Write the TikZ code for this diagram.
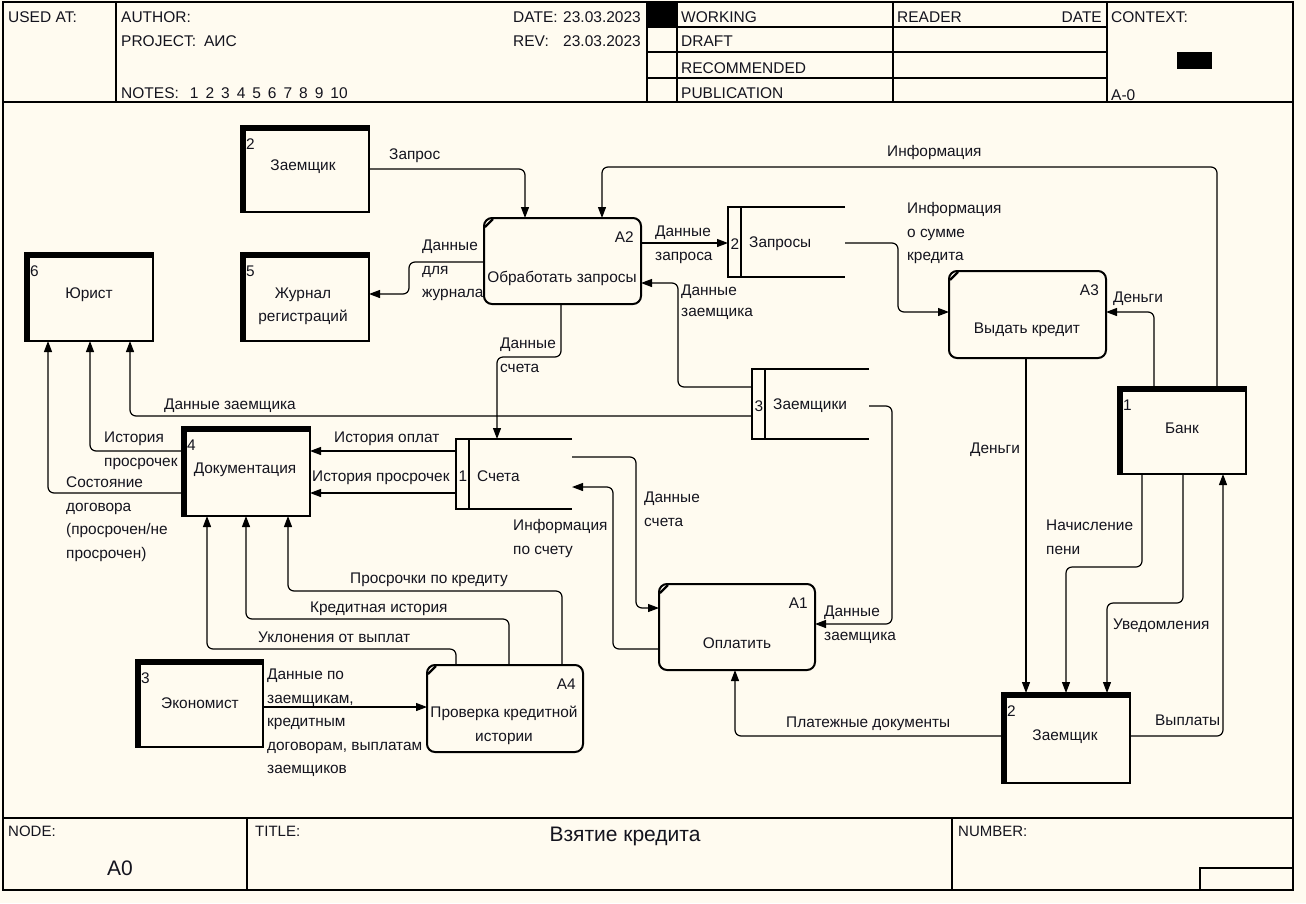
\documentclass[tikz,border=0pt]{standalone}
\usepackage{fontspec}
\setmainfont{Liberation Sans}
\usetikzlibrary{arrows.meta,calc}
\definecolor{bg}{RGB}{255,251,240}
\definecolor{ink}{RGB}{20,20,30}
\newcommand\lblfont{\fontsize{15.4}{23.5}\selectfont}
\newcommand\hdrfont{\fontsize{15.5}{18}\selectfont}
\newcommand\ftrfont{\fontsize{15}{18}\selectfont}
\newcommand\bigfont{\fontsize{21}{24}\selectfont}
% entity: name, x1,y1,x2,y2, number
\newcommand\mkent[6]{%
  \node[ent, minimum width={#4-#2}, minimum height={#5-#3}] (#1) at ({(#2+#4)/2},{(#3+#5)/2}) {};
  \draw[line width=5pt] ($(#1.south west)+(2.5,0)$) -- ($(#1.north west)+(2.5,2.5)$) -- ($(#1.north east)+(0,2.5)$);
  \node[num, anchor=west] (#1n) at ($(#1.north west)+(5,18)$) {#6};
}
% activity: name, x1,y1,x2,y2, label
\newcommand\mkact[6]{%
  \node[act, minimum width={#4-#2}, minimum height={#5-#3}] (#1) at ({(#2+#4)/2},{(#3+#5)/2}) {};
  \draw[line width=2.2pt] ($(#1.north west)+(1,9)$) -- ($(#1.north west)+(9,1)$);
  \node[num, anchor=east] (#1n) at ($(#1.north east)+(-7,19)$) {#6};
}
% store: name, x1,y1,x2,y2, number, text
\newcommand\mkstore[7]{%
  \node[stor, minimum width={#4-#2}, minimum height={#5-#3}] (#1) at ({(#2+#4)/2},{(#3+#5)/2}) {};
  \draw[line width=2pt] (#1.north east) -- (#1.north west) -- (#1.south west) -- (#1.south east);
  \draw[line width=2pt] ($(#1.north west)+(13,0)$) -- ($(#1.south west)+(13,0)$);
  \node[num] (#1n) at ($(#1.west)+(7,2)$) {#6};
  \node[num, anchor=west] (#1t) at ($(#1.west)+(21,2)$) {#7};
}
\newcommand\mklbl[4]{\node[lbl] (#1) at (#2,{#3-12}) {\strut #4};}

\begin{document}
\begin{tikzpicture}[x=1pt,y=-1pt,
  ent/.style={draw, line width=2pt, fill=bg, inner sep=0pt, outer sep=0pt},
  act/.style={draw, line width=2pt, rounded corners=8pt, fill=bg, inner sep=0pt, outer sep=0pt},
  stor/.style={inner sep=0pt, outer sep=0pt},
  txt/.style={inner sep=0pt, font=\lblfont, align=center, text=ink},
  num/.style={inner sep=0pt, font=\lblfont, text=ink},
  lbl/.style={anchor=north west, inner sep=0pt, align=left, font=\lblfont, text=ink},
  hdr/.style={anchor=west, inner sep=0pt, font=\hdrfont, text=ink},
  ftr/.style={anchor=west, inner sep=0pt, font=\ftrfont, text=ink},
  frameline/.style={line width=1.3pt},
  arr/.style={line width=1.2pt, rounded corners=6pt, -{Triangle[length=11pt,width=8pt]}},
]
\fill[bg] (0,0) rectangle (1306,903);
\useasboundingbox (0,0) rectangle (1306,903);

% ---------- frame, header, footer ----------
\draw[frameline] (3,2) rectangle (1293,890);
\draw[frameline] (3,102) -- (1293,102);
\foreach \x in {116,647,677,893,1107} \draw[frameline] (\x,2) -- (\x,102);
\foreach \y in {27,52,78} \draw[frameline] (647,\y) -- (1107,\y);
\fill (647,2) rectangle (677,27);
\fill (1177,52) rectangle (1212,69);

\node[hdr] (h1) at (8,17) {USED AT:};
\node[hdr] (h2) at (121,17) {AUTHOR:};
\node[hdr] (h3) at (121,41) {PROJECT:\hspace{8pt}АИС};
\node[hdr] (h4) at (121,93) {NOTES:\hspace{11pt}1\hspace{7pt}2\hspace{7pt}3\hspace{7pt}4\hspace{7pt}5\hspace{7pt}6\hspace{7pt}7\hspace{7pt}8\hspace{7pt}9\hspace{7pt}10};
\node[hdr] (h5) at (513,17) {DATE:};
\node[hdr, anchor=east] (h6) at (641,17) {23.03.2023};
\node[hdr] (h7) at (513,41) {REV:};
\node[hdr, anchor=east] (h8) at (641,41) {23.03.2023};
\node[hdr] (h9) at (681,17) {WORKING};
\node[hdr] (h10) at (681,41) {DRAFT};
\node[hdr] (h11) at (681,68) {RECOMMENDED};
\node[hdr] (h12) at (681,93) {PUBLICATION};
\node[hdr] (h13) at (897,17) {READER};
\node[hdr, anchor=east] (h14) at (1102,17) {DATE};
\node[hdr] (h15) at (1111,17) {CONTEXT:};
\node[hdr] (h16) at (1111,95) {A-0};

\draw[frameline] (3,818) -- (1293,818);
\draw[frameline] (247,818) -- (247,890);
\draw[frameline] (952,818) -- (952,890);
\draw[frameline] (1200,890) -- (1200,868) -- (1293,868);
\node[ftr] (f1) at (8,831) {NODE:};
\node[inner sep=0pt, font=\bigfont, text=ink] (f2) at (120,868) {A0};
\node[ftr] (f3) at (255,831) {TITLE:};
\node[inner sep=0pt, font=\bigfont, text=ink] (f4) at (625,836) {Взятие кредита};
\node[ftr] (f5) at (958,831) {NUMBER:};

% ---------- entities ----------
\mkent{zt}{241}{126}{369}{212}{2}
\node[txt] (ztt) at (303,167) {Заемщик};
\mkent{zh}{241}{253}{369}{341}{5}
\node[txt, font=\fontsize{15.4}{23}\selectfont] (zht) at (303,306) {Журнал\\регистраций};
\mkent{ur}{25}{253}{153}{341}{6}
\node[txt] (urt) at (89,295) {Юрист};
\mkent{doc}{182}{427}{310}{516}{4}
\node[txt] (doct) at (245,470) {Документация};
\mkent{ek}{136}{660}{263}{747}{3}
\node[txt] (ekt) at (200,703) {Экономист};
\mkent{bank}{1118}{387}{1246}{474}{1}
\node[txt] (bankt) at (1182,428) {Банк};
\mkent{zb}{1002}{693}{1130}{783}{2}
\node[txt] (zbt) at (1065,737) {Заемщик};

% ---------- activities ----------
\mkact{a2}{484}{218}{641}{304}{A2}
\node[txt] (a2t) at (562,278) {Обработать запросы};
\mkact{a3}{949}{271}{1106}{358}{A3}
\node[txt] (a3t) at (1027,330) {Выдать кредит};
\mkact{a1}{659}{584}{815}{670}{A1}
\node[txt] (a1t) at (737,643) {Оплатить};
\mkact{a4}{427}{665}{583}{752}{A4}
\node[txt, font=\fontsize{15.4}{24}\selectfont] (a4t) at (504,725) {Проверка кредитной\\истории};

% ---------- stores ----------
\mkstore{zs}{728}{207}{845}{277}{2}{Запросы}
\mkstore{zk}{752}{369}{869}{439}{3}{Заемщики}
\mkstore{sc}{456}{439}{572}{509}{1}{Счета}

% ---------- connectors ----------
\draw[arr] (zt.east |- 0,169) -| (a2.north -| 525,0);
\mklbl{l1}{389}{155}{Запрос}
\draw[arr] (bank.north -| 1217,0) |- (602,167) -- (a2.north -| 602,0);
\mklbl{l2}{887}{152}{Информация}
\draw[arr] (a2.west |- 0,262) -| (409,294) -- (zh.east |- 0,294);
\mklbl{l3}{422}{246}{Данные\\для\\журнала}
\draw[arr] (a2.east |- 0,243) -- (zs.west |- 0,243);
\mklbl{l4}{655}{232}{Данные\\запроса}
\draw[arr] (zs.east |- 0,243) -| (898,312) -- (a3.west |- 0,312);
\mklbl{l5}{907}{209}{Информация\\о сумме\\кредита}
\draw[arr] (bank.north -| 1154,0) |- (a3.east |- 0,312);
\mklbl{l6}{1113}{298}{Деньги}
\draw[arr] (a3.south -| 1026,0) -- (zb.north -| 1026,0);
\mklbl{l7}{970}{449}{Деньги}
\draw[arr] (bank.south -| 1142,0) |- (1066,567) -- (zb.north -| 1066,0);
\mklbl{l8}{1046}{526}{Начисление\\пени}
\draw[arr] (bank.south -| 1183,0) |- (1107,603) -- (zb.north -| 1107,0);
\mklbl{l9}{1113}{625}{Уведомления}
\draw[arr] (zb.east |- 0,736) -| (bank.south -| 1223,0);
\mklbl{l10}{1155}{721}{Выплаты}
\draw[arr] (zb.west |- 0,736) -| (a1.south -| 735,0);
\mklbl{l11}{786}{723}{Платежные документы}
\draw[arr] (zk.east |- 0,406) -| (892,624) -- (a1.east |- 0,624);
\mklbl{l12}{824}{612}{Данные\\заемщика}
\draw[arr] (zk.west |- 0,387) -| (678,283) -- (a2.east |- 0,283);
\node[lbl, font=\fontsize{15.4}{21.5}\selectfont] (l13) at (681,280) {\strut Данные\\заемщика};
\draw[arr] (zk.west |- 0,416) -| (ur.south -| 130,0);
\mklbl{l14}{164}{405}{Данные заемщика}
\draw[arr] (a2.south -| 561,0) |- (497,357) -- (sc.north -| 497,0);
\mklbl{l15}{500}{344}{Данные\\счета}
\draw[arr] (sc.west |- 0,451) -- (doc.east |- 0,451);
\mklbl{l16}{334}{438}{История оплат}
\draw[arr] (sc.west |- 0,493) -- (doc.east |- 0,493);
\mklbl{l17}{312}{477}{История просрочек}
\draw[arr] (doc.west |- 0,451) -| (ur.south -| 90,0);
\mklbl{l18}{104}{438}{История\\просрочек}
\draw[arr] (doc.west |- 0,493) -| (ur.south -| 48,0);
\mklbl{l19}{66}{483}{Состояние\\договора\\(просрочен/не\\просрочен)}
\draw[arr] (a1.west |- 0,649) -| (613,487) -- (sc.east |- 0,487);
\mklbl{l20}{513}{526}{Информация\\по счету}
\draw[arr] (sc.east |- 0,457) -| (636,608) -- (a1.west |- 0,608);
\mklbl{l21}{644}{498}{Данные\\счета}
\draw[arr] (a4.north -| 456,0) |- (207,649) -- (doc.south -| 207,0);
\mklbl{l22}{258}{638}{Уклонения от выплат}
\draw[arr] (a4.north -| 509,0) |- (246,619) -- (doc.south -| 246,0);
\mklbl{l23}{310}{608}{Кредитная история}
\draw[arr] (a4.north -| 562,0) |- (288,591) -- (doc.south -| 288,0);
\mklbl{l24}{350}{579}{Просрочки по кредиту}
\draw[arr] (ek.east |- 0,707) -- (a4.west |- 0,707);
\mklbl{l25}{267}{675}{Данные по\\заемщикам,\\кредитным\\договорам, выплатам\\заемщиков}
\end{tikzpicture}
\end{document}
